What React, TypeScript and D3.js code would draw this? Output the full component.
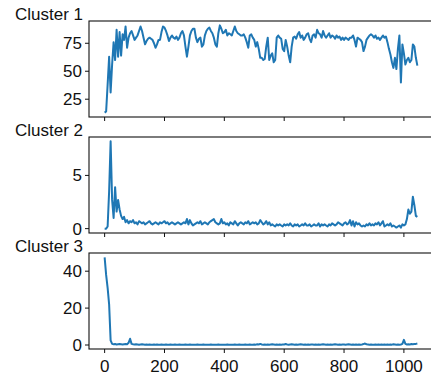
import React from "react";
import * as d3 from "d3";

// sample spacing along x (one value every 5 steps, 0..1045)
const STEP = 5;

const cluster1 = [
  13, 14, 38, 63, 31, 56, 76, 60, 87, 63, 85, 64, 83, 78, 90, 71, 80, 84, 86, 82,
  78, 80, 82, 86, 90, 86, 80, 74, 77, 79, 80, 79, 78, 75, 71, 74, 78, 78, 85, 90,
  89, 86, 82, 77, 80, 82, 80, 79, 81, 78, 80, 84, 86, 82, 72, 63, 72, 82, 86, 88,
  88, 80, 76, 79, 80, 72, 74, 82, 86, 88, 89, 86, 84, 80, 74, 72, 84, 91, 88, 84,
  85, 87, 82, 84, 83, 82, 86, 90, 86, 84, 83, 82, 82, 83, 80, 76, 71, 82, 83, 80,
  78, 72, 76, 70, 62, 62, 60, 61, 72, 80, 60, 64, 66, 58, 60, 80, 82, 80, 79, 70,
  68, 78, 72, 64, 58, 72, 80, 81, 79, 83, 85, 80, 82, 78, 80, 83, 84, 79, 76, 82,
  83, 80, 87, 84, 83, 80, 86, 82, 80, 82, 84, 80, 82, 81, 79, 82, 80, 81, 78, 80,
  78, 80, 79, 78, 80, 80, 82, 78, 72, 80, 79, 78, 76, 68, 72, 78, 80, 82, 83, 82,
  80, 82, 79, 80, 78, 80, 82, 80, 81, 76, 70, 65, 58, 53, 62, 52, 70, 82, 40, 74,
  66, 56, 60, 62, 58, 60, 74, 72, 62, 55,
];

const cluster2 = [
  0, 0, 0.2, 3.5, 8.2, 2.7, 1.0, 3.9, 1.6, 2.7, 1.8, 1.2, 0.9, 1.1, 0.6, 0.8, 0.5, 0.7, 0.6, 0.8,
  0.5, 0.6, 0.4, 0.7, 0.6, 0.5, 0.6, 0.4, 0.5, 0.6, 0.7, 0.5, 0.4, 0.5, 0.6, 0.5, 0.4, 0.6, 0.5, 0.6,
  0.7, 0.5, 0.6, 0.4, 0.5, 0.6, 0.5, 0.4, 0.5, 0.6, 0.5, 0.4, 0.5, 0.6, 0.5, 0.9, 0.4, 0.8, 0.5, 0.3,
  0.4, 0.5, 0.6, 0.5, 0.7, 0.4, 0.5, 0.6, 0.5, 0.4, 0.6, 0.7, 0.8, 0.9, 0.6, 0.5, 0.4, 0.5, 0.9, 0.5,
  0.6, 0.4, 0.5, 0.3, 0.6, 0.5, 0.4, 0.7, 0.5, 0.3, 0.5, 0.6, 0.5, 0.4, 0.6, 0.5, 0.7, 0.4, 0.5, 0.6,
  0.5, 0.6, 0.4, 0.5, 0.8, 0.6, 0.4, 0.5, 0.7, 0.4, 0.6, 0.3, 0.4, 0.3, 0.2, 0.4, 0.3, 0.4, 0.3, 0.2,
  0.4, 0.3, 0.4, 0.3, 0.5, 0.3, 0.2, 0.4, 0.3, 0.4, 0.2, 0.3, 0.4, 0.3, 0.5, 0.3, 0.3, 0.4, 0.2, 0.3,
  0.4, 0.3, 0.3, 0.5, 0.2, 0.4, 0.3, 0.4, 0.3, 0.2, 0.4, 0.3, 0.5, 0.4, 0.3, 0.4, 0.6, 0.5, 0.4, 0.3,
  0.5, 0.6, 0.4, 0.5, 0.8, 0.3, 0.7, 0.2, 0.6, 0.4, 0.5, 0.3, 0.2, 0.3, 0.2, 0.4, 0.3, 0.5, 0.3, 0.4,
  0.3, 0.5, 0.4, 0.6, 0.3, 0.5, 0.7, 0.2, 0.3, 0.4, 0.3, 0.5, 0.2, 0.3, 0.2, 0.1, 0.2, 0.3, 0.1, 0.4,
  0.3, 0.4, 0.9, 1.8, 1.4, 1.6, 3.0, 2.2, 1.2, 1.1,
];

const cluster3 = [
  47.5, 38, 31, 22, 2.5, 0.6, 0.4, 0.5, 0.3, 0.4, 0.5, 0.4, 0.3, 0.4, 0.5, 0.4, 1.2, 3.4, 0.6, 0.4,
  0.3, 0.4, 0.3, 0.2, 0.3, 0.4, 0.3, 0.2, 0.3, 0.2, 0.3, 0.2, 0.2, 0.3, 0.2, 0.3, 0.2, 0.2, 0.3, 0.2,
  0.2, 0.3, 0.2, 0.2, 0.3, 0.2, 0.2, 0.3, 0.2, 0.2, 0.3, 0.2, 0.2, 0.2, 0.3, 0.2, 0.2, 0.3, 0.2, 0.2,
  0.2, 0.2, 0.3, 0.2, 0.2, 0.2, 0.3, 0.2, 0.2, 0.2, 0.2, 0.3, 0.2, 0.2, 0.2, 0.2, 0.3, 0.2, 0.2, 0.2,
  0.2, 0.2, 0.3, 0.2, 0.2, 0.2, 0.2, 0.3, 0.2, 0.2, 0.3, 0.2, 0.2, 0.2, 0.3, 0.2, 0.2, 0.3, 0.2, 0.2,
  0.3, 0.2, 0.4, 0.3, 0.6, 0.3, 0.2, 0.3, 0.2, 0.3, 0.2, 0.3, 0.4, 0.3, 0.2, 0.3, 0.2, 0.3, 0.2, 0.3,
  0.3, 0.5, 0.3, 0.2, 0.3, 0.4, 0.3, 0.2, 0.3, 0.2, 0.3, 0.4, 0.3, 0.2, 0.3, 0.2, 0.3, 0.2, 0.3, 0.3,
  0.2, 0.3, 0.2, 0.3, 0.2, 0.3, 0.4, 0.3, 0.2, 0.3, 0.2, 0.3, 0.2, 0.3, 0.4, 0.3, 0.2, 0.3, 0.2, 0.3,
  0.3, 0.2, 0.3, 0.4, 0.3, 0.2, 0.3, 0.2, 0.3, 0.2, 0.3, 0.2, 0.3, 0.5, 0.8, 0.4, 0.3, 0.2, 0.3, 0.2,
  0.2, 0.3, 0.2, 0.3, 0.2, 0.3, 0.2, 0.3, 0.2, 0.3, 0.2, 0.3, 0.2, 0.4, 0.3, 0.2, 0.3, 0.2, 0.3, 0.6,
  2.8, 0.6, 0.3, 0.4, 0.3, 0.5, 0.4, 0.5, 0.6, 0.8,
];

const titles = ["Cluster 1", "Cluster 2", "Cluster 3"];
const series = [cluster1, cluster2, cluster3];
const yTicks = [[25, 50, 75], [0, 5], [0, 20, 40]];
const xTicks = [0, 200, 400, 600, 800, 1000];

const width = 431;
const height = 380;
const left = 89;
const right = 433;
const panelTops = [21, 137, 253];
const panelH = 96;
const font = "'Liberation Sans', Arial, sans-serif";
const fontSize = 17;

// matplotlib-like 5% margins
const padded = (lo: number, hi: number) => {
  const m = (hi - lo) * 0.05;
  return [lo - m, hi + m];
};

const Panel = ({ idx }: { idx: number }) => {
  const values = series[idx];
  const top = panelTops[idx];
  const bottom = top + panelH;
  const xMax = (values.length - 1) * STEP;
  const x = d3.scaleLinear().domain(padded(0, xMax)).range([left, right]);
  const y = d3
    .scaleLinear()
    .domain(padded(d3.min(values) as number, d3.max(values) as number))
    .range([bottom, top]);
  const line = d3
    .line<number>()
    .x((_, i) => x(i * STEP))
    .y((d) => y(d));

  return (
    <g>
      <path d={line(values) || ""} fill="none" stroke="#1f77b4" strokeWidth={2} strokeLinejoin="round" />
      <rect x={left} y={top} width={right - left} height={panelH} fill="none" stroke="#111" strokeWidth={1.1} />
      {yTicks[idx].map((t) => (
        <g key={t}>
          <line x1={left - 4} x2={left} y1={y(t)} y2={y(t)} stroke="#111" />
          <text x={left - 7} y={y(t)} dy="0.35em" textAnchor="end" fontSize={fontSize} fontFamily={font} fill="#111">
            {t}
          </text>
        </g>
      ))}
      {xTicks.map((t) => (
        <g key={t}>
          <line x1={x(t)} x2={x(t)} y1={bottom} y2={bottom + 4} stroke="#111" />
          {idx === 2 && (
            <text x={x(t)} y={bottom + 23} textAnchor="middle" fontSize={fontSize} fontFamily={font} fill="#111">
              {t}
            </text>
          )}
        </g>
      ))}
      <text x={83} y={top - 1} textAnchor="end" fontSize={fontSize} fontFamily={font} fill="#111">
        {titles[idx]}
      </text>
    </g>
  );
};

export default function App() {
  return (
    <svg
      width={width}
      height={height}
      style={{ position: "absolute", left: 0, top: 0, background: "#fff" }}
    >
      {series.map((_, i) => (
        <Panel key={i} idx={i} />
      ))}
    </svg>
  );
}
